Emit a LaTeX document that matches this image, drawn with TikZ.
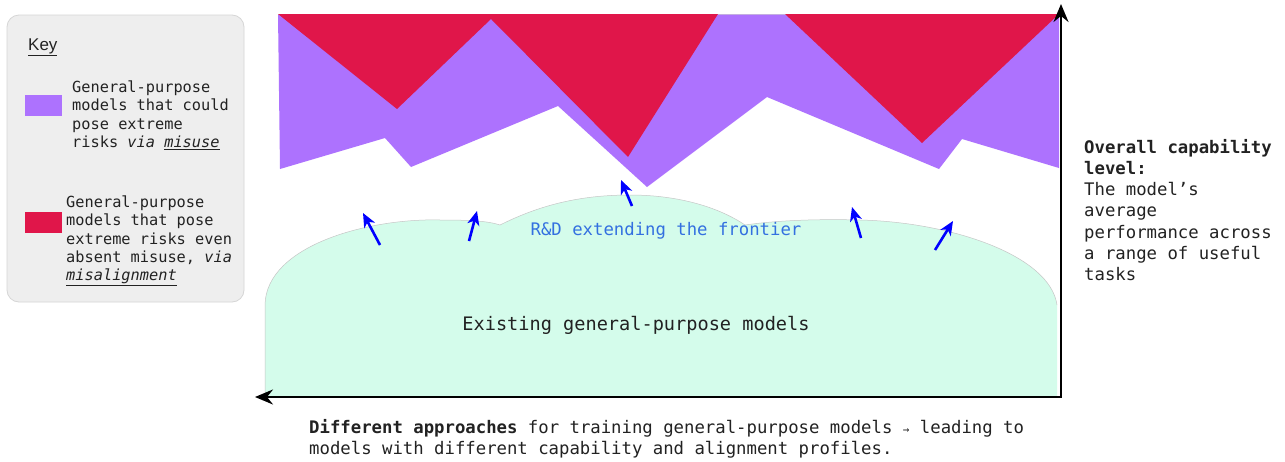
\documentclass[tikz,border=0pt]{standalone}
\usepackage{fontspec}
\setmainfont{DejaVu Sans Mono}
\setmonofont{DejaVu Sans Mono}
\setsansfont{Liberation Sans}
\usetikzlibrary{arrows.meta}
\definecolor{purp}{HTML}{AD72FE}
\definecolor{riskred}{HTML}{E0164A}
\definecolor{mint}{HTML}{D4FCEB}
\definecolor{keybg}{HTML}{EEEEEE}
\definecolor{keyline}{HTML}{D6D6D6}
\definecolor{ink}{HTML}{222222}
\definecolor{rdblue}{HTML}{3370E0}
\tikzset{
  keytext/.style={anchor=north west, inner sep=0pt, align=left, text=ink,
    font=\fontsize{15.3}{18.3}\selectfont},
  bigtext/.style={anchor=north west, inner sep=0pt, align=left, text=ink,
    font=\fontsize{17.3}{21.2}\selectfont},
  swatch/.style={draw=none},
  axis/.style={line width=2.4pt, black, line join=miter},
  axistip/.tip={Stealth[length=18pt,width=15pt,inset=6pt]},
  rdarrow/.style={line width=2.6pt, blue, -{Stealth[length=14pt,width=12pt,inset=4pt]}},
}
\begin{document}
\begin{tikzpicture}[x=1pt,y=-1pt]
\useasboundingbox (0,0) rectangle (1285,461);
\fill[white] (0,0) rectangle (1285,461);

% key box
\draw[keyline, fill=keybg, rounded corners=12pt, line width=0.8pt] (7,15) rectangle (244,302);
\node[anchor=base west, inner sep=0pt, text=ink, font=\sffamily\fontsize{17}{20}\selectfont] (keytitle) at (28,50) {\underline{Key}};
\fill[purp, swatch] (25,95) rectangle (62,116);
\fill[riskred, swatch] (25,212) rectangle (62,233);
\node[keytext] (key1) at (72,80.5) {General-purpose\\models that could\\pose extreme\\risks \textit{via} \underline{\textit{misuse}}};
\node[keytext] (key2) at (66,195.5) {General-purpose\\models that pose\\extreme risks even\\absent misuse, \textit{via}\\\underline{\textit{misalignment}}};

% purple region
\fill[purp] (278,14) -- (1059,14) -- (1059,168) -- (962,139) -- (939,169) -- (767,97)
  -- (647,187) -- (558,106) -- (411,167) -- (385,138) -- (280,169) -- cycle;
\draw[purp!60!gray!60, line width=0.6pt] (278,14) -- (1059,14);
% red regions
\fill[riskred] (278,14) -- (397,109) -- (491,19) -- (628,157) -- (718,14) -- cycle;
\fill[riskred] (785,14) -- (922,143) -- (1059,14) -- cycle;

% existing models blob
\fill[mint] (265,397) -- (265,305)
  .. controls (266,245) and (370,218) .. (440,220)
  .. controls (470,220) and (488,221) .. (500,225)
  .. controls (540,205) and (580,195) .. (630,195)
  .. controls (680,195) and (720,208) .. (745,225)
  .. controls (780,220) and (820,219) .. (860,220)
  .. controls (950,222) and (1050,255) .. (1057,305)
  -- (1057,397) -- cycle;
\draw[gray!45, line width=0.5pt] (265,397) -- (265,305)
  .. controls (266,245) and (370,218) .. (440,220)
  .. controls (470,220) and (488,221) .. (500,225)
  .. controls (540,205) and (580,195) .. (630,195)
  .. controls (680,195) and (720,208) .. (745,225)
  .. controls (780,220) and (820,219) .. (860,220)
  .. controls (950,222) and (1050,255) .. (1057,305);

\node[inner sep=0pt, text=rdblue, font=\fontsize{17.3}{20}\selectfont] (rd) at (666,231) {R\&D extending the frontier};
\node[inner sep=0pt, text=ink, font=\fontsize{18.6}{22}\selectfont] (existing) at (636,325) {Existing general-purpose models};

% R&D arrows
\coordinate (a1s) at (380,245); \coordinate (a1e) at (363,213);
\coordinate (a2s) at (469,241); \coordinate (a2e) at (477,211);
\coordinate (a3s) at (632,206); \coordinate (a3e) at (621,180);
\coordinate (a4s) at (861,238); \coordinate (a4e) at (852,207);
\coordinate (a5s) at (935,250); \coordinate (a5e) at (953,221);
\draw[rdarrow] (a1s) -- (a1e);
\draw[rdarrow] (a2s) -- (a2e);
\draw[rdarrow] (a3s) -- (a3e);
\draw[rdarrow] (a4s) -- (a4e);
\draw[rdarrow] (a5s) -- (a5e);

% axes
\coordinate (O) at (1061,397);
\coordinate (xend) at (255,397);
\coordinate (yend) at (1061,4);
\draw[axis, {axistip}-{axistip}] (xend) -- (O) -- (yend);

% axis labels
\node[bigtext] (ylabel) at (1084,139) {\textbf{Overall capability}\\\textbf{level:}\\The model’s\\average\\performance across\\a range of useful\\tasks};
\node[bigtext, font=\fontsize{17.3}{21.5}\selectfont] (xlabel) at (309,419) {\textbf{Different approaches} for training general-purpose models {\fontsize{11}{12}\selectfont→} leading to\\models with different capability and alignment profiles.};
\end{tikzpicture}
\end{document}
